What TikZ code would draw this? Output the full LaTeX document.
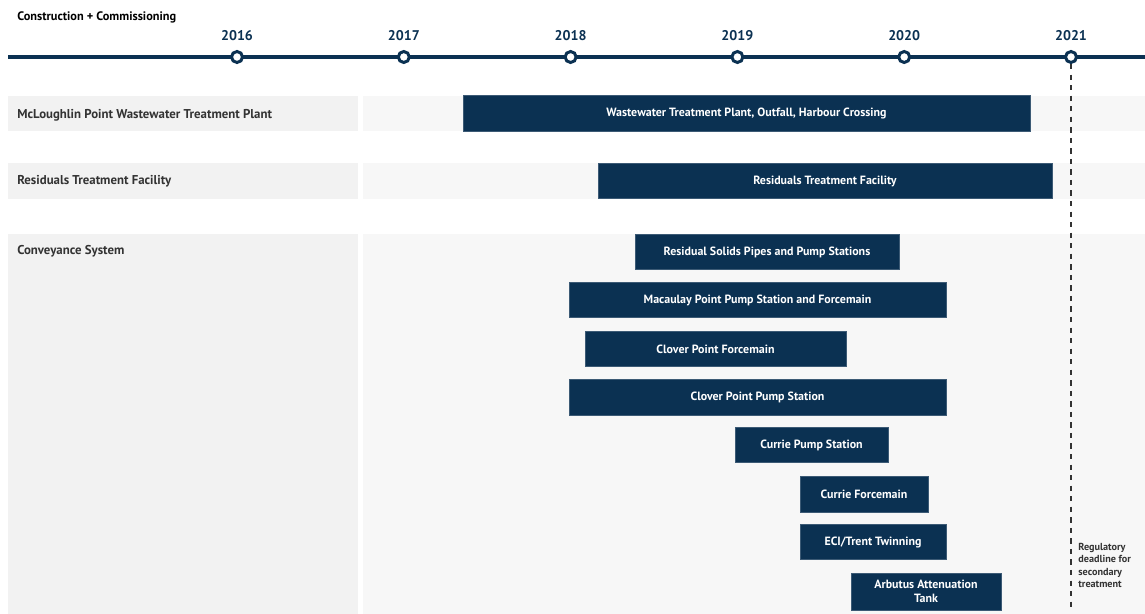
\documentclass[tikz,border=0pt]{standalone}
\usepackage{fontspec}
\setmainfont{PT Sans}
\usepackage{xcolor}
\usepackage{tikz}
\definecolor{navy}{HTML}{0B3152}
\definecolor{rowgray}{HTML}{F2F2F2}
\definecolor{lanegray}{HTML}{F7F7F7}
\definecolor{inkgray}{HTML}{333333}
\usetikzlibrary{positioning, calc}

\begin{document}
\begin{tikzpicture}[x=0.02cm, y=-0.02cm,
    bar/.style={fill=navy, draw=navy!80, inner sep=0pt, minimum height=0.71cm, text=white, font=\bfseries\fontsize{6.8}{8}\selectfont, align=center},
    rowlabel/.style={anchor=west, inner sep=0pt, text=inkgray, font=\bfseries\fontsize{7.3}{9}\selectfont},
    yearlabel/.style={text=navy, font=\bfseries\fontsize{8}{10}\selectfont},
    tick/.style={circle, draw=navy, line width=1.7pt, fill=white, inner sep=0pt, minimum size=0.22cm}]
    \useasboundingbox (0,0) rectangle (1145,614);

    % row backgrounds
    \fill[rowgray] (8,96) rectangle (358,131);
    \fill[lanegray] (363,96) rectangle (1145,131);
    \fill[rowgray] (8,163) rectangle (358,199);
    \fill[lanegray] (363,163) rectangle (1145,199);
    \fill[rowgray] (8,234) rectangle (358,614);
    \fill[lanegray] (363,234) rectangle (1145,614);

    % timeline
    \node[anchor=west, inner sep=0pt, font=\bfseries\fontsize{7}{8}\selectfont] (title) at (17,17.5) {Construction + Commissioning};
    \draw[navy, line width=2.3pt] (8,57) -- (1145,57);
    \foreach \yr [count=\i from 0] in {2016,2017,2018,2019,2020,2021} {
        \node[tick] (y\yr) at (237+166.8*\i,57) {};
        \node[yearlabel] (t\yr) at (237+166.8*\i,36) {\yr};
    }

    % deadline
    \coordinate (deadend) at (1071,612);
    \draw[inkgray, dashed, line width=0.6pt] (y2021) -- (deadend);
    \node[anchor=north west, inner sep=0pt, align=left, text=inkgray, font=\bfseries\fontsize{5.8}{7}\selectfont] (deadline) at (1078,543) {Regulatory\\deadline for\\secondary\\treatment};

    % row names
    \node[rowlabel] (mcl) at (17,115) {McLoughlin Point Wastewater Treatment Plant};
    \node[rowlabel] (res) at (17,181) {Residuals Treatment Facility};
    \node[rowlabel] (con) at (17,251.5) {Conveyance System};

    % schedule bars
    \node[bar, minimum width=11.34cm] (wwtp) at (746.5,113.5) {Wastewater Treatment Plant, Outfall, Harbour Crossing};
    \node[bar, minimum width=9.08cm] (rtf) at (825,181) {Residuals Treatment Facility};
    \node[bar, minimum width=5.28cm] (solids) at (767,252) {Residual Solids Pipes and Pump Stations};
    \node[bar, minimum width=7.54cm] (macaulay) at (757.5,300) {Macaulay Point Pump Station and Forcemain};
    \node[bar, minimum width=5.22cm] (cpforce) at (715.5,349) {Clover Point Forcemain};
    \node[bar, minimum width=7.54cm] (cppump) at (757.5,397.5) {Clover Point Pump Station};
    \node[bar, minimum width=3.06cm] (currpump) at (811.5,445) {Currie Pump Station};
    \node[bar, minimum width=2.56cm] (currforce) at (864,494.5) {Currie Forcemain};
    \node[bar, minimum width=2.92cm] (eci) at (873,542) {ECI/Trent Twinning};
    \node[bar, minimum width=3.00cm, minimum height=0.74cm] (arbutus) at (926,591.5) {Arbutus Attenuation\\Tank};
\end{tikzpicture}
\end{document}
